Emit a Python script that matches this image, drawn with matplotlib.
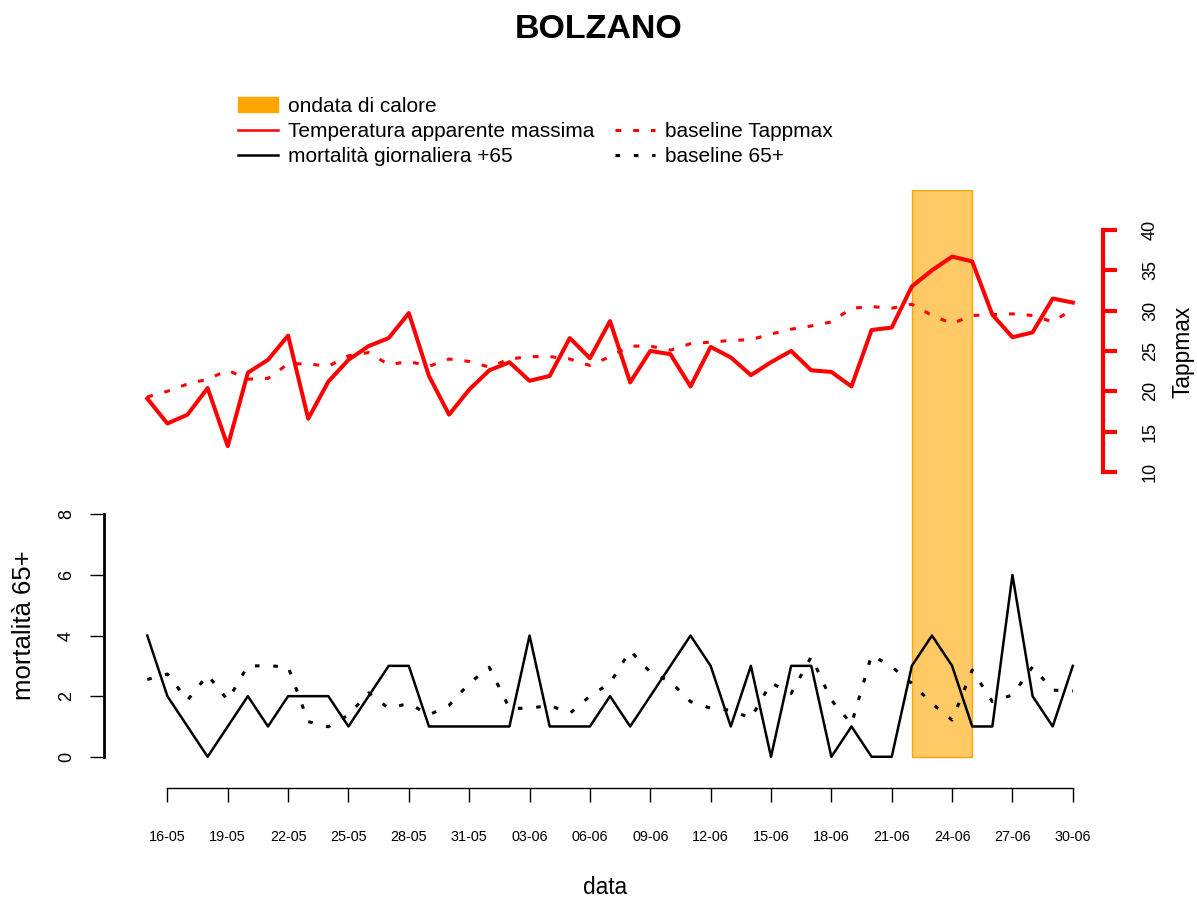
import numpy as np
import pandas as pd
import matplotlib
matplotlib.use('Agg')
import matplotlib.pyplot as plt
from matplotlib.patches import Patch, Rectangle
from matplotlib.lines import Line2D

plt.rcParams['font.family'] = ['Liberation Sans', 'DejaVu Sans']

# giorni dal 15-05 al 30-06
giorni = pd.date_range('2023-05-15', '2023-06-30').strftime('%d-%m').tolist()

tick_labels = ['16-05', '19-05', '22-05', '25-05', '28-05', '31-05', '03-06', '06-06',
               '09-06', '12-06', '15-06', '18-06', '21-06', '24-06', '27-06', '30-06']

ondata_inizio = '22-06'
ondata_fine = '25-06'

tappmax = [19.1, 16.0, 17.1, 20.4, 13.2, 22.3, 23.9, 26.9, 16.6, 21.2,
           23.9, 25.6, 26.6, 29.7, 21.9, 17.1, 20.2, 22.6, 23.6, 21.3,
           21.9, 26.6, 24.1, 28.7, 21.1, 25.0, 24.6, 20.6, 25.5, 24.2,
           22.0, 23.6, 25.0, 22.6, 22.4, 20.6, 27.6, 27.9, 33.0, 35.0,
           36.7, 36.1, 29.5, 26.7, 27.3, 31.5, 31.0]

baseline_tappmax = [19.3, 20.0, 20.9, 21.5, 22.6, 21.5, 21.6, 23.4, 23.4, 23.1,
                    24.4, 24.8, 23.3, 23.7, 23.1, 24.0, 23.7, 23.0, 24.0, 24.3,
                    24.3, 24.0, 23.2, 24.3, 25.6, 25.6, 25.1, 25.9, 26.1, 26.3,
                    26.4, 27.1, 27.7, 28.1, 28.6, 30.3, 30.5, 30.3, 30.8, 29.4,
                    28.4, 29.4, 29.5, 29.6, 29.4, 28.6, 30.2]

mortalita = [4, 2, 1, 0, 1, 2, 1, 2, 2, 2,
             1, 2, 3, 3, 1, 1, 1, 1, 1, 4,
             1, 1, 1, 2, 1, 2, 3, 4, 3, 1,
             3, 0, 3, 3, 0, 1, 0, 0, 3, 4,
             3, 1, 1, 6, 2, 1, 3]

baseline_65 = [2.55, 2.73, 1.87, 2.70, 1.87, 3.00, 3.00, 2.97, 1.16, 0.99,
               1.38, 2.11, 1.60, 1.76, 1.38, 1.70, 2.42, 2.95, 1.60, 1.60,
               1.70, 1.43, 2.00, 2.43, 3.50, 2.79, 2.48, 1.82, 1.60, 1.54,
               1.27, 2.44, 2.09, 3.30, 1.87, 1.08, 3.36, 2.97, 2.42, 1.76,
               1.21, 2.86, 1.82, 2.04, 2.97, 2.20, 2.17]

x = np.arange(len(giorni))
ticks = [giorni.index(t) for t in tick_labels]

W, H = 1197, 899
fig = plt.figure(figsize=(W / 100, H / 100), dpi=100)
ax = fig.add_axes([104 / W, (H - 788) / H, (1103 - 104) / W, (788 - 190) / H])
ax2 = ax.twinx()

ax.set_xlim(-2.15, 47.5)
ax.set_ylim(-1.03, 18.7)
ax2.set_ylim(-29.2, 44.96)

# ondata di calore
x0 = giorni.index(ondata_inizio)
x1 = giorni.index(ondata_fine)
ax.add_patch(Rectangle((x0, 0), x1 - x0, ax.get_ylim()[1], facecolor=(1, 0.647, 0, 0.6),
                       edgecolor='#FFA500', lw=1, zorder=1))

ax.plot(x, mortalita, color='black', lw=1.8, zorder=3)
ax.plot(x, baseline_65, color='black', lw=2.2, dashes=(1.5, 4.5), zorder=3)
ax2.plot(x, tappmax, color='red', lw=2.9, zorder=3)
ax2.plot(x, baseline_tappmax, color='red', lw=2.2, dashes=(1.9, 3.9), zorder=3)

# assi
for s in ['top', 'right']:
    ax.spines[s].set_visible(False)
for s in ['top', 'left', 'bottom']:
    ax2.spines[s].set_visible(False)

ax.spines['left'].set_bounds(0, 8)
ax.spines['left'].set_linewidth(2)
ax.set_yticks([0, 2, 4, 6, 8])
ax.tick_params(axis='y', length=10, width=1, labelsize=13, pad=11)
for lab in ax.get_yticklabels():
    lab.set_rotation(90)
    lab.set_va('center')

ax.spines['bottom'].set_bounds(ticks[0], ticks[-1])
ax.spines['bottom'].set_linewidth(1)
ax.set_xticks(ticks)
ax.set_xticklabels(tick_labels)
ax.tick_params(axis='x', length=10, width=1, labelsize=10.4, pad=20)

ax2.spines['right'].set_bounds(10, 40)
ax2.spines['right'].set_color('red')
ax2.spines['right'].set_linewidth(3)
ax2.set_yticks([10, 15, 20, 25, 30, 35, 40])
ax2.tick_params(axis='y', length=10, width=3, color='red', labelsize=13, pad=18)
for lab in ax2.get_yticklabels():
    lab.set_rotation(90)
    lab.set_va('center')

ax.set_ylabel('mortalità 65+', fontsize=18.5, va='center')
ax.yaxis.set_label_coords((24 - 104) / 999, (788 - 625) / 598)
ax2.set_ylabel('Tappmax', fontsize=16.4, va='center')
ax2.yaxis.set_label_coords((1183 - 104) / 999, (788 - 352) / 598)
ax.set_xlabel('data', fontsize=16.3, va='center')
ax.xaxis.set_label_coords((605 - 104) / 999, (788 - 887) / 598)

fig.text(599 / W, 1 - 29 / H, 'BOLZANO', ha='center', va='center',
         fontsize=24.5, fontweight='bold')

handles = [Patch(facecolor='#FFA500', edgecolor='#FFA500'),
           Line2D([], [], color='red', lw=1.8),
           Line2D([], [], color='black', lw=1.8),
           Line2D([], [], color='none'),
           Line2D([], [], color='red', lw=2.2, dashes=(1.9, 3.9)),
           Line2D([], [], color='black', lw=2.2, dashes=(1.5, 4.5))]
labels = ['ondata di calore', 'Temperatura apparente massima', 'mortalità giornaliera +65',
          '', 'baseline Tappmax', 'baseline 65+']
fig.legend(handles, labels, ncol=2, loc='upper left', bbox_to_anchor=(238 / W, 1 - 97 / H),
           frameon=False, borderpad=0, borderaxespad=0, fontsize=15,
           handlelength=1.92, handletextpad=0.48, columnspacing=1.0, labelspacing=0.29)

fig.savefig('out.png', dpi=100)
